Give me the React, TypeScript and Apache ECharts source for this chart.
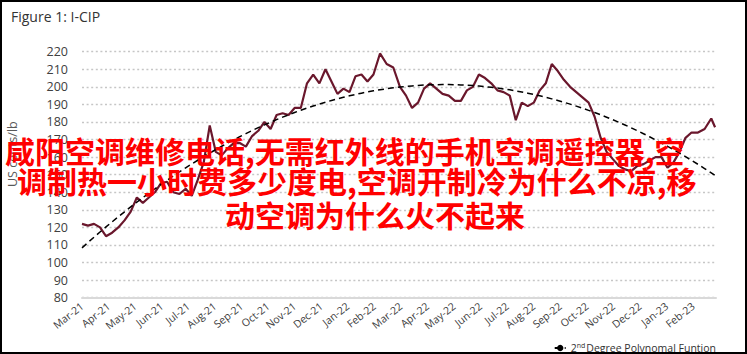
import React, { useEffect, useRef } from 'react';
import * as echarts from 'echarts';

// Month tick labels (one per month start, Mar-21 .. Feb-23)
const monthLabels = [
  'Mar-21', 'Apr-21', 'May-21', 'Jun-21', 'Jul-21', 'Aug-21', 'Sep-21', 'Oct-21',
  'Nov-21', 'Dec-21', 'Jan-22', 'Feb-22', 'Mar-22', 'Apr-22', 'May-22', 'Jun-22',
  'Jul-22', 'Aug-22', 'Sep-22', 'Oct-22', 'Nov-22', 'Dec-22', 'Jan-23', 'Feb-23',
];

// Weekly observations starting Monday 2021-03-01, plus a final observation
const firstWeek = '2021-03-01';
const finalDate = '2023-02-24';
const axisEndDate = '2023-02-25';

// I-CIP, US cents/lb (weekly)
const icipValues = [
  122, 121, 122, 120, 115, 117, 120, 124, 129, 137,
  134, 137, 140, 145, 146, 140, 139, 142, 138, 147,
  157, 178, 163, 161, 165, 168, 168, 166, 172, 175,
  180, 176, 184, 185, 184, 188, 188, 202, 207, 202,
  210, 203, 196, 199, 197, 206, 207, 203, 207, 219,
  213, 211, 200, 195, 188, 191, 199, 202, 199, 196,
  195, 192, 192, 198, 200, 207, 205, 202, 198, 197,
  195, 181, 191, 189, 191, 198, 202, 213, 209, 204,
  200, 197, 194, 191, 183, 171, 163, 159, 155, 153,
  152, 155, 156, 158, 160, 160, 154, 157, 163, 171,
  174, 174, 176, 182, 177,
];

const yTicks = { min: 80, max: 220, interval: 10 };

const titleText = 'Figure 1: I-CIP';
const yAxisTitle = 'US cents/lb';
const seriesName = 'I-CIP';
const trendName = '2nd Degree Polynomal Funtion';

const overlayLines = [
  '咸阳空调维修电话,无需红外线的手机空调遥控器,空',
  '调制热一小时费多少度电,空调开制冷为什么不凉,移',
  '动空调为什么火不起来',
];

function fmt(d: Date) {
  const y = d.getFullYear();
  const m = String(d.getMonth() + 1).padStart(2, '0');
  const dd = String(d.getDate()).padStart(2, '0');
  return `${y}-${m}-${dd}`;
}

function buildDates(): string[] {
  const [y, m, d] = firstWeek.split('-').map(Number);
  const out: string[] = [];
  for (let k = 0; k < icipValues.length - 1; k++) {
    out.push(fmt(new Date(y, m - 1, d + 7 * k)));
  }
  out.push(finalDate);
  return out;
}

// months since Mar 2021 (fractional)
function toMonthIndex(s: string) {
  const [y, m, d] = s.split('-').map(Number);
  const dim = new Date(y, m, 0).getDate();
  return (y - 2021) * 12 + (m - 3) + (d - 1) / dim;
}

function quadFit(xs: number[], ys: number[]) {
  let s0 = 0, s1 = 0, s2 = 0, s3 = 0, s4 = 0, t0 = 0, t1 = 0, t2 = 0;
  for (let i = 0; i < xs.length; i++) {
    const x = xs[i], y = ys[i];
    s0 += 1; s1 += x; s2 += x * x; s3 += x * x * x; s4 += x * x * x * x;
    t0 += y; t1 += x * y; t2 += x * x * y;
  }
  const M = [
    [s4, s3, s2, t2],
    [s3, s2, s1, t1],
    [s2, s1, s0, t0],
  ];
  for (let i = 0; i < 3; i++) {
    let p = i;
    for (let r = i + 1; r < 3; r++) if (Math.abs(M[r][i]) > Math.abs(M[p][i])) p = r;
    [M[i], M[p]] = [M[p], M[i]];
    for (let r = 0; r < 3; r++) {
      if (r === i) continue;
      const f = M[r][i] / M[i][i];
      for (let c = i; c < 4; c++) M[r][c] -= f * M[i][c];
    }
  }
  return { a: M[0][3] / M[0][0], b: M[1][3] / M[1][1], c: M[2][3] / M[2][2] };
}

const FONT = "'Open Sans', 'Noto Sans', sans-serif";

export default function App() {
  const ref = useRef<HTMLDivElement>(null);

  useEffect(() => {
    document.body.style.margin = '0';
    if (!ref.current) return;
    const chart = echarts.init(ref.current, undefined, { renderer: 'svg' });

    const dates = buildDates();
    const xs = dates.map(toMonthIndex);
    const lineData = xs.map((x, i) => [x, icipValues[i]]);
    const { a, b, c } = quadFit(xs, icipValues);
    const trendData = xs.map((x) => [x, a * x * x + b * x + c]);
    const xMax = toMonthIndex(axisEndDate);

    chart.setOption({
      animation: false,
      backgroundColor: '#ffffff',
      grid: { left: 82, right: 31, top: 51.7, bottom: 56.3, containLabel: false },
      legend: {
        show: true,
        data: [trendName],
        right: 26,
        top: 337,
        itemWidth: 11,
        itemHeight: 8,
        itemGap: 4,
        selectedMode: false,
        textStyle: {
          fontFamily: FONT,
          fontSize: 10.5,
          color: '#333333',
          rich: {
            n: { fontFamily: FONT, fontSize: 10.5, color: '#333333' },
            s: { fontFamily: FONT, fontSize: 7, color: '#333333', padding: [0, 1, 5, 0] },
          },
        },
        formatter: () => '{n|2}{s|nd}{n|Degree Polynomal Funtion}',
      },
      xAxis: {
        type: 'value',
        min: 0,
        max: xMax,
        interval: 1,
        splitLine: { show: false },
        axisTick: { show: false },
        axisLine: { show: true, lineStyle: { color: '#d9d9d9', width: 2 } },
        axisLabel: {
          rotate: 38,
          margin: 7,
          fontFamily: FONT,
          fontSize: 10.5,
          color: '#404040',
          showMaxLabel: false,
          formatter: (v: number) => {
            const i = Math.round(v);
            return Math.abs(v - i) < 1e-6 && monthLabels[i] ? monthLabels[i] : '';
          },
        },
      },
      yAxis: {
        type: 'value',
        min: yTicks.min,
        max: yTicks.max,
        interval: yTicks.interval,
        axisLine: { show: false },
        axisTick: { show: false },
        axisLabel: { margin: 14, fontFamily: FONT, fontSize: 12.5, color: '#404040' },
        splitLine: {
          show: true,
          lineStyle: { color: '#c6c6c6', width: 1.4, type: [2, 2.6] },
        },
      },
      graphic: [
        {
          type: 'text',
          left: 11,
          top: 9,
          style: { text: titleText, font: `14px ${FONT}`, fill: '#333333' },
        },
        {
          type: 'text',
          x: 6,
          y: 187,
          rotation: Math.PI / 2,
          style: { text: yAxisTitle, font: `12.5px ${FONT}`, fill: '#595959', textAlign: 'left', textVerticalAlign: 'top' },
        },
        {
          type: 'rect',
          shape: { x: 1, y: 1, width: 745, height: 352 },
          style: { fill: 'none', stroke: '#000000', lineWidth: 2 },
          z: 100,
        },
        ...overlayLines.map((t, i) => ({
          type: 'text',
          x: [5, 17, 225][i],
          y: [150, 180, 214][i],
          z: 200,
          style: {
            text: t,
            font: "bold 30px 'Noto Sans CJK SC'",
            fill: '#ff0000',
            textAlign: 'left',
            textVerticalAlign: 'middle',
          },
        })),
      ],
      series: [
        {
          name: seriesName,
          type: 'line',
          data: lineData,
          showSymbol: false,
          symbol: 'none',
          lineStyle: { color: '#6a172c', width: 2.2 },
          z: 3,
        },
        {
          name: trendName,
          type: 'line',
          data: trendData,
          showSymbol: false,
          symbol: 'none',
          smooth: false,
          lineStyle: { color: '#000000', width: 1.5, type: [6, 4] },
          itemStyle: { color: '#000000' },
          z: 4,
        },
      ],
    });

    return () => chart.dispose();
  }, []);

  return <div ref={ref} style={{ width: 747, height: 354, position: 'absolute', left: 0, top: 0 }} />;
}
